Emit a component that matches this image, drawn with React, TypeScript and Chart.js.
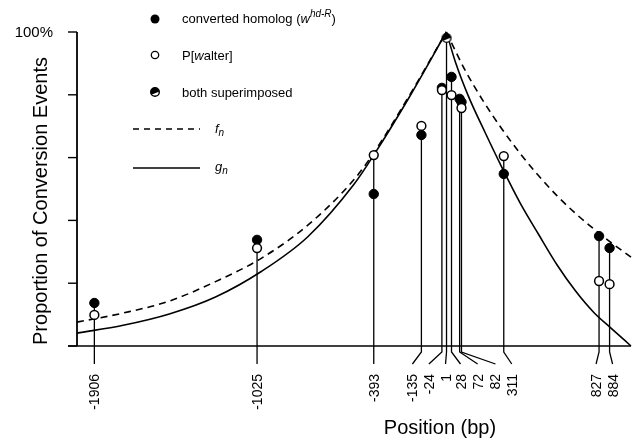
import React, { useEffect, useRef } from "react";
import { Chart, registerables } from "chart.js";
Chart.register(...registerables);

// ---- data ----
const positions = [-1906, -1025, -393, -135, -24, 1, 28, 72, 82, 311, 827, 884];
const tickLabels = ["-1906", "-1025", "-393", "-135", "-24", "1", "28", "72", "82", "311", "827", "884"];
const convertedHomolog: (number | null)[] = [13.7, 33.8, 48.4, 67.2, 82.2, null, 85.7, 78.7, 77.7, 54.8, 35.0, 31.2];
const pWalter: (number | null)[] = [9.9, 31.2, 60.8, 70.1, 81.5, null, 79.9, null, 75.8, 60.5, 20.7, 19.7];
const bothPositions = [1];
const bothValues = [98.1];

// f_n (dashed) and g_n (solid) curves, read point by point
const gLeftX = [-2000, -1750, -1500, -1250, -1000, -750, -500, -393, -200, 0];
const gLeftY = [4.1, 6.6, 10.2, 15.6, 23.8, 34.8, 51.5, 60.8, 79.3, 100];
const gRightX = [0, 50, 120, 210, 300, 400, 500, 600, 700, 800, 890, 1000];
const gRightY = [100, 90.3, 79.5, 68, 57, 45.5, 35.5, 25.8, 17.5, 10.6, 5.8, 0];
const fLeftX = [-2000, -1750, -1500, -1250, -1000, -750, -500, -393, -200, 0];
const fLeftY = [7.6, 10.5, 14.3, 20.5, 28.0, 38.5, 53.0, 61.5, 79.8, 100];
const fRightX = [0, 100, 200, 300, 400, 500, 600, 700, 800, 900, 1000];
const fRightY = [100, 88, 78, 69.2, 61.3, 54.2, 47.8, 42.2, 37.2, 32.6, 28.3];

const yTicks = [0, 20, 40, 60, 80, 100];
const X_MIN = -2000;
const X_MAX = 1000;

// layout only: pixel shift of each staggered tick label from its tick
const labelShift = [0, 0, 0, -9, -13, -1, 9, 18, 34, 8, -3, 3];

const FONT = "'Liberation Sans', Arial, Helvetica, sans-serif";

function pts(xs: number[], ys: (number | null)[]) {
  const out: { x: number; y: number }[] = [];
  xs.forEach((x, i) => {
    const y = ys[i];
    if (y !== null && y !== undefined) out.push({ x, y });
  });
  return out;
}

function drawHalf(ctx: CanvasRenderingContext2D, cx: number, cy: number, r: number) {
  ctx.save();
  ctx.beginPath();
  ctx.arc(cx, cy, r, 0, Math.PI * 2);
  ctx.fillStyle = "#fff";
  ctx.fill();
  ctx.save();
  ctx.clip();
  ctx.beginPath();
  ctx.arc(cx, cy, r + 1, Math.PI * 0.8, Math.PI * 1.95);
  ctx.closePath();
  ctx.fillStyle = "#000";
  ctx.fill();
  ctx.restore();
  ctx.beginPath();
  ctx.arc(cx, cy, r, 0, Math.PI * 2);
  ctx.lineWidth = 1.4;
  ctx.strokeStyle = "#000";
  ctx.stroke();
  ctx.restore();
}

type Part = { t: string; italic?: boolean; size?: number; dy?: number };
function drawRich(ctx: CanvasRenderingContext2D, x: number, y: number, parts: Part[], base = 13) {
  let cx = x;
  ctx.textAlign = "left";
  ctx.textBaseline = "alphabetic";
  for (const p of parts) {
    ctx.font = `${p.italic ? "italic " : ""}${p.size ?? base}px ${FONT}`;
    ctx.fillText(p.t, cx, y + (p.dy ?? 0));
    cx += ctx.measureText(p.t).width;
  }
}

const decor = {
  id: "decor",
  beforeDatasetsDraw(chart: any) {
    const ctx: CanvasRenderingContext2D = chart.ctx;
    const xs = chart.scales.x;
    const ys = chart.scales.y;
    const y0 = ys.getPixelForValue(0);
    const left = chart.chartArea.left;
    const right = chart.chartArea.right;
    ctx.save();
    ctx.strokeStyle = "#000";
    ctx.fillStyle = "#000";
    ctx.lineCap = "butt";
    // y axis
    ctx.lineWidth = 1.8;
    ctx.beginPath();
    ctx.moveTo(left, ys.getPixelForValue(100));
    ctx.lineTo(left, y0);
    ctx.stroke();
    ctx.lineWidth = 1.4;
    for (const t of yTicks) {
      const py = ys.getPixelForValue(t);
      ctx.beginPath();
      ctx.moveTo(left - 9, py);
      ctx.lineTo(left, py);
      ctx.stroke();
    }
    // baseline
    ctx.lineWidth = 1.6;
    ctx.beginPath();
    ctx.moveTo(left - 9, y0);
    ctx.lineTo(right, y0);
    ctx.stroke();
    // stems + leaders + labels
    ctx.lineWidth = 1.3;
    positions.forEach((p, i) => {
      const tx = xs.getPixelForValue(p);
      const vals = [convertedHomolog[i], pWalter[i]].filter((v) => v !== null) as number[];
      const bi = bothPositions.indexOf(p);
      if (bi >= 0) vals.push(bothValues[bi]);
      const top = Math.max(...vals);
      const lx = tx + labelShift[i];
      ctx.beginPath();
      ctx.moveTo(tx, ys.getPixelForValue(top));
      ctx.lineTo(tx, y0 + 6);
      ctx.lineTo(lx, y0 + 18);
      ctx.stroke();
      ctx.save();
      ctx.translate(lx + 5, y0 + 28);
      ctx.rotate(-Math.PI / 2);
      ctx.font = `14px ${FONT}`;
      ctx.textAlign = "right";
      ctx.textBaseline = "alphabetic";
      ctx.fillText(tickLabels[i], 0, 0);
      ctx.restore();
    });
    // 100% label
    ctx.font = `15px ${FONT}`;
    ctx.textAlign = "right";
    ctx.textBaseline = "middle";
    ctx.fillText("100%", 53, ys.getPixelForValue(100) + 1);
    // axis titles
    ctx.font = `20px ${FONT}`;
    ctx.textAlign = "center";
    ctx.textBaseline = "alphabetic";
    ctx.fillText("Position (bp)", 440, 434);
    ctx.save();
    ctx.translate(47, 201);
    ctx.rotate(-Math.PI / 2);
    ctx.fillText("Proportion of Conversion Events", 0, 0);
    ctx.restore();
    ctx.restore();
  },
  afterDraw(chart: any) {
    const ctx: CanvasRenderingContext2D = chart.ctx;
    ctx.save();
    ctx.fillStyle = "#000";
    ctx.strokeStyle = "#000";
    // filled
    ctx.beginPath();
    ctx.arc(155, 19, 4.5, 0, Math.PI * 2);
    ctx.fill();
    drawRich(ctx, 182, 23, [
      { t: "converted homolog (" },
      { t: "w", italic: true },
      { t: "hd-R", italic: true, size: 10, dy: -6 },
      { t: ")" },
    ]);
    // open
    ctx.beginPath();
    ctx.arc(155, 55, 3.7, 0, Math.PI * 2);
    ctx.fillStyle = "#fff";
    ctx.fill();
    ctx.lineWidth = 1.3;
    ctx.stroke();
    ctx.fillStyle = "#000";
    drawRich(ctx, 182, 59.5, [{ t: "P[" }, { t: "w", italic: true }, { t: "alter]" }]);
    // both
    drawHalf(ctx, 155, 92, 4.3);
    ctx.fillStyle = "#000";
    drawRich(ctx, 182, 96.5, [{ t: "both superimposed" }]);
    // f_n
    ctx.lineWidth = 1.5;
    ctx.setLineDash([6, 5]);
    ctx.beginPath();
    ctx.moveTo(133, 129);
    ctx.lineTo(200, 129);
    ctx.stroke();
    ctx.setLineDash([]);
    drawRich(ctx, 215, 133, [{ t: "f", italic: true }, { t: "n", italic: true, size: 10, dy: 3 }]);
    // g_n
    ctx.beginPath();
    ctx.moveTo(133, 168);
    ctx.lineTo(200, 168);
    ctx.stroke();
    drawRich(ctx, 215, 171, [{ t: "g", italic: true }, { t: "n", italic: true, size: 10, dy: 3 }]);
    ctx.restore();
  },
};

export default function App() {
  const ref = useRef<HTMLCanvasElement | null>(null);
  useEffect(() => {
    if (!ref.current) return;
    const img = document.createElement("canvas");
    img.width = 12;
    img.height = 12;
    const ictx = img.getContext("2d")!;
    drawHalf(ictx, 6, 6, 4.4);

    const lineBase = {
      type: "line" as const,
      borderColor: "#000",
      borderWidth: 1.6,
      pointRadius: 0,
      fill: false,
      cubicInterpolationMode: "monotone" as const,
      clip: false as any,
    };
    const chart = new Chart(ref.current, {
      type: "scatter",
      data: {
        datasets: [
          {
            type: "scatter",
            data: pts(bothPositions, bothValues),
            pointStyle: img as any,
            pointRadius: 5,
            clip: false as any,
          } as any,
          {
            type: "scatter",
            data: pts(positions, pWalter),
            pointRadius: 4.4,
            pointBackgroundColor: "#fff",
            pointBorderColor: "#000",
            pointBorderWidth: 1.5,
            clip: false as any,
          },
          {
            type: "scatter",
            data: pts(positions, convertedHomolog),
            pointRadius: 4.7,
            pointBackgroundColor: "#000",
            pointBorderColor: "#000",
            pointBorderWidth: 1,
            clip: false as any,
          },
          { ...lineBase, data: pts(fRightX, fRightY), borderDash: [7, 5] },
          { ...lineBase, data: pts(fLeftX, fLeftY), borderDash: [7, 5] },
          { ...lineBase, data: pts(gRightX, gRightY) },
          { ...lineBase, data: pts(gLeftX, gLeftY) },
        ] as any,
      },
      options: {
        animation: false,
        responsive: false,
        maintainAspectRatio: false,
        events: [],
        layout: { padding: { left: 77, right: 4, top: 32, bottom: 98 } },
        scales: {
          x: { type: "linear", min: X_MIN, max: X_MAX, display: false },
          y: { type: "linear", min: 0, max: 100, display: false },
        },
        plugins: { legend: { display: false }, tooltip: { enabled: false } },
      },
      plugins: [decor],
    });
    return () => chart.destroy();
  }, []);
  return (
    <div style={{ position: "fixed", left: 0, top: 0, width: 637, height: 444, background: "#fff" }}>
      <canvas ref={ref} width={637} height={444} style={{ width: 637, height: 444 }} />
    </div>
  );
}
